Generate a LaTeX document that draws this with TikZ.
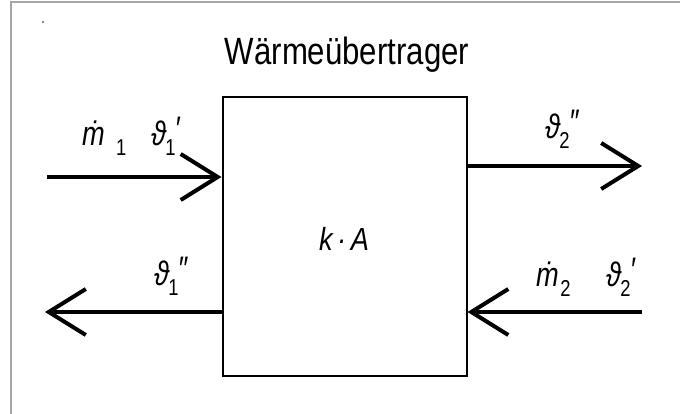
\documentclass[tikz,border=0pt]{standalone}
\usepackage{fontspec}
\setmainfont{Liberation Sans}
\usetikzlibrary{arrows.meta}
\newcommand\subtx[1]{\raisebox{-10pt}{\fontsize{23}{23}\selectfont\upshape #1}}
\newcommand\suptx[1]{\raisebox{5pt}{#1}}
\newcommand\thlab[2]{ϑ\kern-1pt\subtx{#1}\kern-1pt\suptx{#2}}
\tikzset{
  frameline/.style={draw=black!35, line width=2pt},
  flow/.style={line width=4pt, -{Straight Barb[length=37pt,width=46pt]}},
  lbl/.style={font=\fontsize{34}{36}\selectfont\itshape, inner sep=0pt, anchor=base west, xscale=0.8},
}
\begin{document}
\begin{tikzpicture}[x=1pt,y=-1pt]
\useasboundingbox (0,0) rectangle (680,414);
\draw[frameline] (10,2) -- (680,2);
\draw[frameline] (11,2) -- (11,414);
\fill[black!50] (43,22) circle (1.3pt);
\node[draw, line width=2pt, minimum width=244pt, minimum height=279pt, inner sep=0pt] (box) at (344.5,236.5) {};
\node[font=\fontsize{38}{40}\selectfont, xscale=0.82, inner sep=0pt, anchor=base] (title) at (347,65) {Wärmeübertrager};
\node[font=\fontsize{32}{34}\selectfont\itshape, xscale=0.85, inner sep=0pt, anchor=base] (ka) at (344,251) {k\,·\,A};
% free ends
\coordinate (inL) at (47,177);
\coordinate (outR) at (642,166);
\coordinate (outL) at (45,312);
\coordinate (inR) at (642,312);
\draw[flow] (inL) -- (box.west |- inL);
\draw[flow] (box.east |- outR) -- (outR);
\draw[flow] (box.west |- outL) -- (outL);
\draw[flow] (inR) -- (box.east |- inR);
% labels
\node[lbl] (m1) at (82,146) {ṁ\kern14pt\subtx{1}};
\node[lbl] (t1) at (151,146) {\thlab{1}{\char"2032}};
\node[lbl] (t2) at (545,139) {\thlab{2}{\char"2033}};
\node[lbl] (t3) at (154,285) {\thlab{1}{\char"2033}};
\node[lbl] (m2) at (536,286) {ṁ\kern2pt\subtx{2}};
\node[lbl] (t4) at (606,286) {\thlab{2}{\char"2032}};
\end{tikzpicture}
\end{document}
